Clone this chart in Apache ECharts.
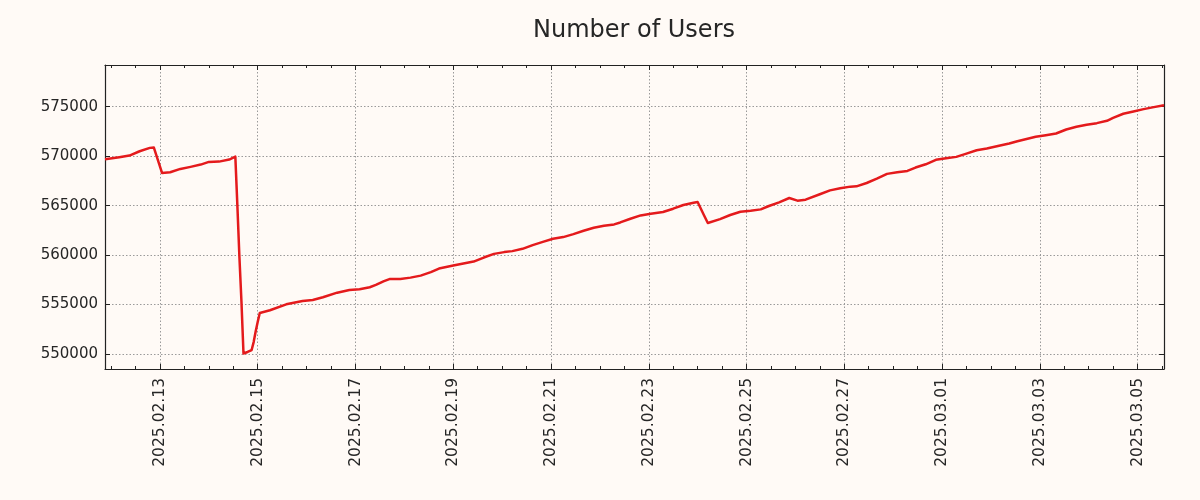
<!DOCTYPE html>
<html><head><meta charset="utf-8">
<script src="https://cdn.jsdelivr.net/npm/echarts@6/dist/echarts.min.js"></script>
<style>html,body{margin:0;padding:0;background:#fffaf6}#chart{width:1200px;height:500px}</style>
</head><body><div id="chart"></div>
<script>
const times = [
'2025-02-11 21:00','2025-02-12 04:00','2025-02-12 09:00','2025-02-12 14:00','2025-02-12 19:00','2025-02-12 21:00',
'2025-02-13 01:00','2025-02-13 05:00','2025-02-13 10:00','2025-02-13 15:00','2025-02-13 20:00',
'2025-02-14 00:00','2025-02-14 05:00','2025-02-14 10:00','2025-02-14 13:00','2025-02-14 14:00','2025-02-14 15:00',
'2025-02-14 16:00','2025-02-14 17:00','2025-02-14 19:00','2025-02-14 21:00','2025-02-14 22:00','2025-02-14 23:00',
'2025-02-15 00:00','2025-02-15 01:00','2025-02-15 06:00','2025-02-15 14:00','2025-02-15 22:00',
'2025-02-16 03:00','2025-02-16 08:00','2025-02-16 15:00','2025-02-16 21:00',
'2025-02-17 02:00','2025-02-17 07:00','2025-02-17 10:00','2025-02-17 14:00','2025-02-17 17:00','2025-02-17 22:00',
'2025-02-18 03:00','2025-02-18 08:00','2025-02-18 13:00','2025-02-18 17:00',
'2025-02-19 00:00','2025-02-19 05:00','2025-02-19 10:00','2025-02-19 15:00','2025-02-19 20:00',
'2025-02-20 01:00','2025-02-20 05:00','2025-02-20 10:00','2025-02-20 15:00','2025-02-20 20:00',
'2025-02-21 01:00','2025-02-21 06:00','2025-02-21 11:00','2025-02-21 16:00','2025-02-21 21:00',
'2025-02-22 02:00','2025-02-22 07:00','2025-02-22 10:00','2025-02-22 15:00','2025-02-22 20:00',
'2025-02-23 01:00','2025-02-23 07:00','2025-02-23 12:00','2025-02-23 17:00','2025-02-23 22:00',
'2025-02-24 00:00','2025-02-24 03:00','2025-02-24 05:00','2025-02-24 11:00','2025-02-24 16:00','2025-02-24 21:00',
'2025-02-25 02:00','2025-02-25 07:00','2025-02-25 11:00','2025-02-25 16:00','2025-02-25 21:00',
'2025-02-26 01:00','2025-02-26 05:00','2025-02-26 12:00','2025-02-26 17:00','2025-02-26 22:00',
'2025-02-27 03:00','2025-02-27 06:00','2025-02-27 11:00','2025-02-27 16:00','2025-02-27 21:00',
'2025-02-28 02:00','2025-02-28 07:00','2025-02-28 11:00','2025-02-28 16:00','2025-02-28 21:00',
'2025-03-01 02:00','2025-03-01 07:00','2025-03-01 12:00','2025-03-01 17:00','2025-03-01 22:00',
'2025-03-02 04:00','2025-03-02 09:00','2025-03-02 13:00','2025-03-02 17:00','2025-03-02 22:00',
'2025-03-03 03:00','2025-03-03 08:00','2025-03-03 13:00','2025-03-03 18:00','2025-03-03 23:00',
'2025-03-04 04:00','2025-03-04 09:00','2025-03-04 12:00','2025-03-04 17:00','2025-03-04 22:00',
'2025-03-05 03:00','2025-03-05 08:00','2025-03-05 13:00'
];
const users = [
569700,569900,570060,570500,570840,570870,
568310,568370,568710,568920,569150,
569420,569450,569660,569950,565000,559800,
555300,550050,550200,550400,551200,552300,
553250,554150,554420,555020,555360,
555460,555730,556200,556470,
556540,556750,556980,557360,557590,557590,
557720,557920,558270,558640,
558940,559140,559340,559750,560120,
560300,560400,560630,561010,561340,
561650,561820,562120,562460,562760,
562960,563100,563300,563670,564010,
564180,564350,564690,565060,565300,
565370,564080,563240,563640,564050,564380,
564480,564620,564960,565330,565770,
565500,565600,566150,566540,566750,
566920,566950,567290,567730,568210,
568370,568510,568850,569180,569630,
569790,569930,570260,570600,570770,
571050,571280,571510,571710,571960,
572120,572290,572700,572970,573180,
573340,573580,573880,574290,574520,
574760,574960,575150
];
const yRange = [548480, 579220];

const DAY = 86400000;
const BASE = Date.UTC(2025, 1, 1);
function toDay(s) { return (Date.parse(s.replace(' ', 'T') + ':00Z') - BASE) / DAY; }
function pad(n) { return (n < 10 ? '0' : '') + n; }
function fmt(d) {
  const dt = new Date(BASE + Math.round(d * DAY));
  return dt.getUTCFullYear() + '.' + pad(dt.getUTCMonth() + 1) + '.' + pad(dt.getUTCDate());
}
const data = times.map((t, i) => [toDay(t), users[i]]);
const xMin = data[0][0], xMax = data[data.length - 1][0];

const FONT = 'DejaVu Sans';
const TXT = '#262626';
const AX = '#222222';
const grid = { color: '#9a9a9a', type: [1.5, 2], width: 1 };

const chart = echarts.init(document.getElementById('chart'));
chart.setOption({
  backgroundColor: '#fffaf6',
  animation: false,
  title: {
    text: 'Number of Users', left: 629, top: 14, textAlign: 'center',
    textStyle: { fontFamily: FONT, fontSize: 24, fontWeight: 'normal', color: TXT }
  },
  grid: { left: 105, right: 36, top: 65, bottom: 131, containLabel: false },
  xAxis: [{
    type: 'value', position: 'bottom', min: xMin, max: xMax,
    splitNumber: 10, minInterval: 2, maxInterval: 2,
    axisLine: { show: true, lineStyle: { color: AX, width: 1.2 } },
    axisTick: { show: true, inside: true, length: 5, lineStyle: { color: AX, width: 1 } },
    minorTick: { show: true, splitNumber: 4, length: 3, lineStyle: { color: AX, width: 1 } },
    axisLabel: { rotate: 90, formatter: fmt, showMinLabel: false, showMaxLabel: false, margin: 9,
      fontFamily: FONT, fontSize: 15.5, color: TXT },
    splitLine: { show: true, lineStyle: grid }
  }, {
    type: 'value', position: 'top', min: xMin, max: xMax,
    splitNumber: 10, minInterval: 2, maxInterval: 2,
    axisLine: { show: true, lineStyle: { color: AX, width: 1.2 } },
    axisTick: { show: true, inside: true, length: 5, lineStyle: { color: AX, width: 1 } },
    minorTick: { show: true, splitNumber: 4, length: 3, lineStyle: { color: AX, width: 1 } },
    axisLabel: { show: false },
    splitLine: { show: false }
  }],
  yAxis: [{
    type: 'value', position: 'left', min: yRange[0], max: yRange[1], splitNumber: 5,
    axisLine: { show: true, lineStyle: { color: AX, width: 1.2 } },
    axisTick: { show: true, inside: true, length: 5, lineStyle: { color: AX, width: 1 } },
    axisLabel: { showMinLabel: false, showMaxLabel: false, margin: 7,
      formatter: v => String(v),
      fontFamily: FONT, fontSize: 15, color: TXT },
    splitLine: { show: true, lineStyle: grid }
  }, {
    type: 'value', position: 'right', min: yRange[0], max: yRange[1], splitNumber: 5,
    axisLine: { show: true, lineStyle: { color: AX, width: 1.2 } },
    axisTick: { show: true, inside: true, length: 5, lineStyle: { color: AX, width: 1 } },
    axisLabel: { show: false },
    splitLine: { show: false }
  }],
  series: [{
    type: 'line', xAxisIndex: 0, yAxisIndex: 0, data: data,
    showSymbol: false, symbol: 'none',
    lineStyle: { color: '#e41a1c', width: 2.5, join: 'round' },
    itemStyle: { color: '#e41a1c' }
  }]
});
</script>
</body></html>
